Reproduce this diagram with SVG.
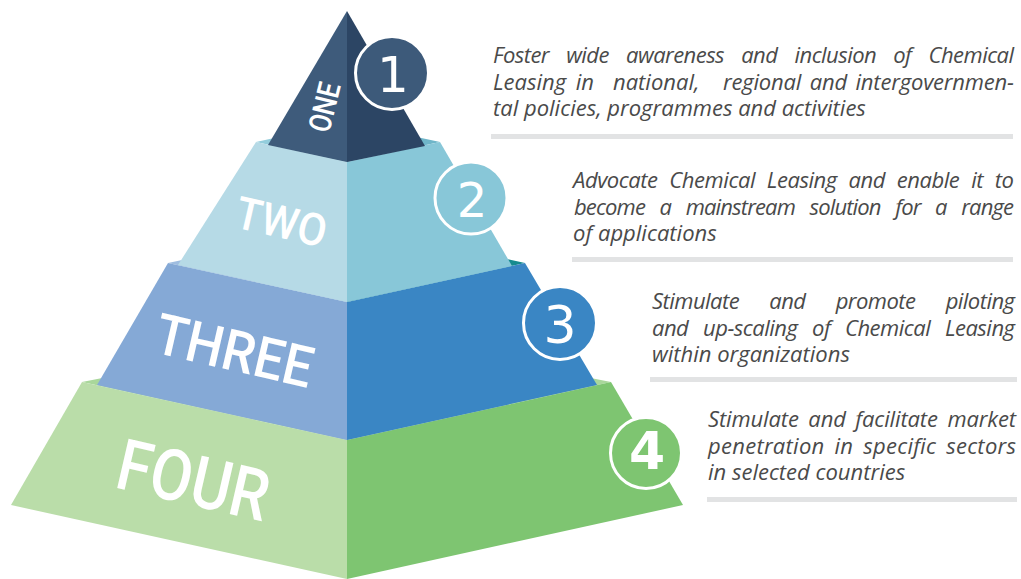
<svg xmlns="http://www.w3.org/2000/svg" width="1021" height="579" viewBox="0 0 1021 579">
<style>
.lbl{font-family:Roboto,"DejaVu Sans Condensed",sans-serif;font-weight:500;fill:#fff}
.num{font-family:"DejaVu Sans","Liberation Sans",sans-serif;fill:#fff;text-anchor:middle}
.ring{stroke:#fff;stroke-width:3}
.d{font-family:"Open Sans","Noto Sans","DejaVu Sans",sans-serif;font-style:italic;font-size:22px;fill:#4a4a4a}
.bar{fill:#e2e3e4}
</style>
<rect width="1021" height="579" fill="#fff"/>
<g id="tier4">
<polygon points="82,382 347,330 611,382 347,440" fill="#a9d79b"/>
<polygon points="82,382 347,440 347,579 11,505" fill="#badda9"/>
<polygon points="347,440 611,382 683,505 347,579" fill="#7ec571"/>
<text class="lbl" font-size="71" textLength="154" lengthAdjust="spacingAndGlyphs" transform="translate(113,487) rotate(13)">FOUR</text>
</g>
<g id="tier3">
<polygon points="168,263 347,225 347,302" fill="#9fbde0"/>
<polygon points="347,225 525,263 347,302" fill="#168b8f"/>
<polygon points="168,263 347,302 347,440 97,385" fill="#85a9d6"/>
<polygon points="347,302 525,263 597,385 347,440" fill="#3a86c4"/>
<text class="lbl" font-size="57" textLength="160" lengthAdjust="spacingAndGlyphs" transform="translate(152,352) rotate(13)">THREE</text>
</g>
<g id="tier2">
<polygon points="256,142 347,122 347,162" fill="#93cddc"/>
<polygon points="347,122 440,142 347,162" fill="#6fb6c9"/>
<polygon points="256,142 347,162 347,302 178,265" fill="#b6dae6"/>
<polygon points="347,162 440,142 512,266 347,302" fill="#88c7d8"/>
<text class="lbl" font-size="45" textLength="92" lengthAdjust="spacingAndGlyphs" transform="translate(233,227) rotate(13)">TWO</text>
</g>
<g id="tier1">
<polygon points="347,11 347,162 268,145" fill="#3e5b7b"/>
<polygon points="347,11 425,146 347,162" fill="#2c4564"/>
<text class="lbl" font-size="31" textLength="50" lengthAdjust="spacingAndGlyphs" transform="translate(329,134) rotate(-76)">ONE</text>
</g>
<g id="badge1">
<circle class="ring" cx="392" cy="73" r="36.5" fill="#3d5a7a"/>
<text class="num" x="393" y="92" font-size="50">1</text>
</g>
<g id="badge2">
<circle class="ring" cx="471" cy="198" r="36" fill="#88c7d8"/>
<text class="num" x="472" y="217" font-size="48">2</text>
</g>
<g id="badge3">
<circle class="ring" cx="560" cy="323" r="36.5" fill="#3a86c4"/>
<text class="num" x="560" y="343" font-size="52">3</text>
</g>
<g id="badge4">
<circle class="ring" cx="646" cy="453" r="35.5" fill="#7ec571"/>
<text class="num" x="647" y="469" font-size="52" font-weight="bold">4</text>
</g>
<g id="text1">
<text class="d" x="493" y="63" word-spacing="12" textLength="521" lengthAdjust="spacing">Foster wide awareness and inclusion of Chemical</text>
<text class="d" x="493" y="89.5" word-spacing="4">Leasing in</text>
<text class="d" x="613" y="89.5">national,</text>
<text class="d" x="723" y="89.5" word-spacing="3" textLength="291" lengthAdjust="spacing">regional and intergovernmen-</text>
<text class="d" x="493" y="116">tal policies, programmes and activities</text>
<rect class="bar" x="491" y="134" width="522" height="5"/>
</g>
<g id="text2">
<text class="d" x="573" y="188" word-spacing="6.5" textLength="441" lengthAdjust="spacing">Advocate Chemical Leasing and enable it to</text>
<text class="d" x="574" y="214.5" word-spacing="9.7" textLength="440" lengthAdjust="spacing">become a mainstream solution for a range</text>
<text class="d" x="573" y="241">of applications</text>
<rect class="bar" x="572" y="257" width="441" height="5"/>
</g>
<g id="text3">
<text class="d" x="652" y="309" word-spacing="25" textLength="363" lengthAdjust="spacing">Stimulate and promote piloting</text>
<text class="d" x="652" y="335.5" word-spacing="9.5" textLength="363" lengthAdjust="spacing">and up-scaling of Chemical Leasing</text>
<text class="d" x="652" y="362">within organizations</text>
<rect class="bar" x="650" y="377" width="367" height="5"/>
</g>
<g id="text4">
<text class="d" x="708" y="427" word-spacing="4" textLength="308" lengthAdjust="spacing">Stimulate and facilitate market</text>
<text class="d" x="708" y="453.5" word-spacing="4" textLength="308" lengthAdjust="spacing">penetration in specific sectors</text>
<text class="d" x="708" y="480">in selected countries</text>
<rect class="bar" x="707" y="497" width="310" height="5"/>
</g>
</svg>
